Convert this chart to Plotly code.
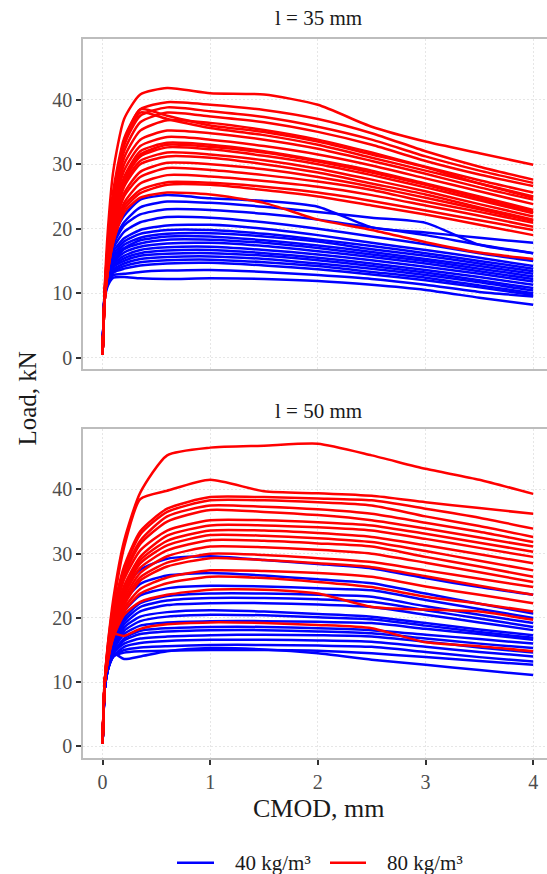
import plotly.graph_objects as go

# CMOD sampling positions (mm) used for every curve
cmod = [0, 0.02, 0.05, 0.1, 0.2, 0.35, 0.6, 1.0, 1.5, 2.0, 2.5, 3.0, 3.5, 4.0]

# l = 35 mm, 40 kg/m3 (blue)
load_35_40 = [
    [0.5, 10, 15, 19, 22, 24.5, 25.2, 24.7, 24.3, 23.4, 20.2, 19.4, 18.6, 17.8],
    [0.5, 10, 14.5, 18, 21, 23.3, 24.2, 24.0, 23.4, 22.6, 21.7, 20.9, 17.5, 16.2],
    [0.5, 10, 14, 17.5, 20.5, 22.2, 23.0, 22.9, 22.3, 21.4, 20.2, 19.0, 17.5, 16.2],
    [0.5, 10, 14, 17, 19.5, 21.0, 21.8, 21.7, 21.0, 20.0, 18.8, 17.6, 16.2, 15.0],
    [0.5, 10, 13.5, 16.5, 18.5, 19.8, 20.5, 20.6, 20.0, 19.0, 17.8, 16.7, 15.5, 14.2],
    [0.5, 10, 13.5, 16, 18, 19.2, 19.8, 19.8, 19.2, 18.3, 17.3, 16.2, 15.0, 13.8],
    [0.5, 10, 13, 15.5, 17.5, 18.6, 19.2, 19.3, 18.8, 18.0, 16.8, 15.8, 14.6, 13.4],
    [0.5, 10, 13, 15.5, 17, 18.2, 18.8, 18.8, 18.2, 17.4, 16.4, 15.3, 14.2, 13.0],
    [0.5, 10, 13, 15, 16.8, 17.7, 18.3, 18.3, 17.8, 17.0, 16.0, 15.0, 13.8, 12.6],
    [0.5, 10, 12.5, 14.8, 16.3, 17.2, 17.7, 17.8, 17.3, 16.5, 15.6, 14.6, 13.4, 12.2],
    [0.5, 10, 12.5, 14.5, 15.8, 16.7, 17.1, 17.2, 16.7, 16.0, 15.1, 14.1, 13.0, 11.8],
    [0.5, 9.5, 12.5, 14.2, 15.4, 16.2, 16.6, 16.7, 16.2, 15.5, 14.6, 13.6, 12.5, 11.3],
    [0.5, 9.5, 12.3, 14, 15.0, 15.8, 16.1, 16.2, 15.8, 15.1, 14.2, 13.2, 12.0, 10.8],
    [0.5, 9.5, 12.0, 13.6, 14.6, 15.3, 15.6, 15.7, 15.3, 14.6, 13.8, 12.8, 11.7, 10.4],
    [0.5, 9.5, 12, 13.4, 14.2, 14.8, 15.1, 15.2, 14.8, 14.2, 13.3, 12.4, 11.2, 10.0],
    [0.5, 9.5, 11.8, 13.2, 13.8, 14.3, 14.6, 14.7, 14.3, 13.7, 12.9, 12.0, 10.9, 9.7],
    [0.5, 9.5, 11.5, 12.8, 13.0, 13.3, 13.5, 13.6, 13.3, 12.8, 12.2, 11.3, 10.2, 9.5],
    [0.5, 9, 11.2, 12.4, 12.5, 12.3, 12.2, 12.3, 12.2, 11.9, 11.3, 10.5, 9.3, 8.2],
]

# l = 35 mm, 80 kg/m3 (red)
load_35_80 = [
    [0.5, 11, 20, 29, 37, 40.8, 41.8, 41.0, 40.8, 39.2, 35.8, 33.5, 31.7, 29.9],
    [0.5, 10.5, 18, 26, 34, 38.5, 39.6, 39.2, 38.4, 37.0, 34.8, 32.0, 29.6, 27.6],
    [0.5, 10.5, 17.5, 25, 33, 37.5, 38.8, 38.2, 37.3, 35.8, 33.8, 31.2, 29.0, 27.1],
    [0.5, 10, 17, 24.5, 32, 36.5, 38.0, 37.4, 36.5, 35.0, 33.0, 30.5, 28.4, 26.6],
    [0.5, 10, 16.5, 24, 31, 35.2, 36.8, 36.4, 35.3, 33.8, 31.8, 29.6, 27.5, 25.6],
    [0.5, 10, 17, 25, 33, 38.0, 37.0, 35.6, 34.5, 33.0, 31.0, 29.0, 27.0, 25.0],
    [0.5, 10, 17, 25, 33.5, 38.5, 37.5, 36.0, 35.0, 33.5, 31.5, 29.5, 27.0, 24.8],
    [0.5, 10, 16, 23, 30, 33.8, 35.2, 34.8, 33.8, 32.4, 30.5, 28.5, 26.4, 24.5],
    [0.5, 9.5, 15.5, 22, 29, 32.8, 34.2, 33.8, 32.8, 31.5, 29.8, 27.8, 25.8, 23.8],
    [0.5, 9.5, 15, 21.5, 28, 32, 33.3, 33.0, 32.0, 30.6, 29.0, 27.0, 25.0, 22.9],
    [0.5, 9.5, 15, 21, 27.5, 31.5, 33, 32.7, 31.8, 30.4, 28.7, 26.8, 24.7, 22.6],
    [0.5, 9.5, 15, 21, 27.5, 31.2, 32.6, 32.3, 31.3, 30.0, 28.3, 26.4, 24.4, 22.4],
    [0.5, 9.5, 14.5, 20.5, 27, 30.5, 31.8, 31.5, 30.6, 29.3, 27.6, 25.8, 23.8, 21.9],
    [0.5, 9, 14.5, 20, 26.5, 30.0, 31.2, 31.0, 30.0, 28.7, 27.0, 25.3, 23.3, 21.4],
    [0.5, 9, 14, 19.5, 25.5, 28.8, 30.2, 30.0, 29.2, 28.0, 26.5, 24.8, 23.0, 21.2],
    [0.5, 9, 14, 19.5, 25, 28.0, 29.4, 29.1, 28.3, 27.3, 26.0, 24.2, 22.6, 20.9],
    [0.5, 9, 14, 19, 24, 27.0, 28.3, 28.1, 27.4, 26.5, 25.2, 23.6, 22.0, 20.3],
    [0.5, 9, 13.5, 18.5, 23.5, 26.0, 27.2, 27.1, 26.5, 25.6, 24.3, 22.8, 21.3, 19.8],
    [0.5, 9, 13.5, 18, 23, 25.5, 26.8, 26.8, 26.0, 25.0, 23.6, 22.2, 20.6, 19.0],
    [0.5, 9, 13.5, 18, 22.5, 24.8, 25.6, 25.3, 24.0, 21.4, 19.8, 17.9, 16.3, 15.3],
]

# l = 50 mm, 40 kg/m3 (blue)
load_50_40 = [
    [0.5, 9, 13.5, 18, 24.5, 27.5, 29.2, 29.6, 29.0, 28.4, 27.7, 26.2, 24.8, 23.6],
    [0.5, 9, 13, 17, 22.5, 25.3, 26.6, 27.0, 26.6, 26.0, 25.4, 23.8, 22.2, 20.7],
    [0.5, 9, 13, 16.5, 21, 23.5, 24.6, 25.0, 24.9, 24.6, 24.3, 22.8, 21.4, 20.0],
    [0.5, 9, 13, 16.5, 20, 22.3, 23.4, 23.8, 23.8, 23.6, 23.3, 21.8, 20.5, 19.2],
    [0.5, 9, 13, 16, 19.5, 21.7, 22.7, 23.1, 23.1, 22.9, 22.5, 21.2, 19.9, 18.6],
    [0.5, 9, 12.5, 15.5, 19, 21, 22.0, 22.3, 22.3, 22.1, 21.7, 20.5, 19.3, 18.1],
    [0.5, 9, 12.5, 15.5, 18.5, 20.2, 20.9, 21.2, 21.0, 20.6, 20.2, 19.2, 18.2, 17.3],
    [0.5, 9, 12.5, 15, 18, 19.5, 20.2, 20.5, 20.4, 20.1, 19.8, 18.8, 17.8, 16.9],
    [0.5, 9, 12.5, 15, 17.5, 18.8, 19.3, 19.5, 19.5, 19.4, 19.2, 18.3, 17.5, 16.6],
    [0.5, 9, 12, 14.5, 16.8, 18.0, 18.4, 18.6, 18.6, 18.4, 18.1, 17.4, 16.7, 16.0],
    [0.5, 9, 12, 14.5, 16.5, 17.5, 17.9, 18.1, 18.1, 17.9, 17.6, 16.8, 16.0, 15.3],
    [0.5, 9, 12, 14.5, 16, 16.8, 17.1, 17.3, 17.4, 17.3, 17.1, 16.3, 15.4, 14.6],
    [0.5, 9, 12, 14, 15.5, 16.1, 16.4, 16.6, 16.6, 16.5, 16.3, 15.5, 14.7, 14.0],
    [0.5, 9, 12, 14, 15, 15.4, 15.6, 15.8, 15.8, 15.7, 15.5, 14.7, 13.9, 13.2],
    [0.5, 9, 12, 14, 14.6, 14.8, 14.9, 15.0, 15.0, 14.9, 14.5, 13.9, 13.3, 12.7],
    [0.5, 9, 12, 14.5, 13.6, 14.0, 14.8, 15.3, 15.1, 14.5, 13.5, 12.7, 11.9, 11.1],
]

# l = 50 mm, 80 kg/m3 (red)
load_50_80 = [
    [0.5, 10, 16, 23, 32, 39.5, 45.3, 46.5, 46.8, 47.1, 45.3, 43.2, 41.5, 39.3],
    [0.5, 10, 16, 22, 31, 38.5, 39.8, 41.5, 39.7, 39.4, 39.0, 38.0, 37.1, 36.2],
    [0.5, 10, 15.5, 21, 28, 33.5, 37.0, 38.8, 38.8, 38.6, 38.3, 37.0, 35.6, 33.9],
    [0.5, 10, 15.5, 21, 27.5, 33, 36.5, 38.3, 38.3, 38.0, 37.5, 35.8, 34.3, 32.6],
    [0.5, 10, 15, 20.5, 27, 32, 35.8, 37.5, 37.3, 36.9, 36.2, 34.8, 33.4, 31.8],
    [0.5, 10, 15, 20, 26.5, 31.5, 35.0, 36.8, 36.5, 36.0, 35.2, 33.9, 32.5, 31.1],
    [0.5, 10, 15, 20, 26, 30.5, 33.6, 35.2, 35.2, 34.9, 34.4, 33.1, 31.7, 30.3],
    [0.5, 10, 14.5, 19.5, 25, 29.5, 32.8, 34.4, 34.4, 34.1, 33.6, 32.3, 30.9, 29.5],
    [0.5, 10, 14.5, 19, 24.5, 29, 32.0, 33.6, 33.6, 33.2, 32.6, 31.3, 29.9, 28.5],
    [0.5, 10, 14.5, 19, 24, 28.5, 31.3, 32.9, 32.8, 32.4, 31.8, 30.4, 28.9, 27.4],
    [0.5, 10, 14, 18.5, 23.5, 27.8, 30.5, 32.1, 32.0, 31.6, 31.1, 29.5, 28.0, 26.4],
    [0.5, 10, 14, 18.5, 23, 27, 29.6, 31.1, 31.0, 30.6, 30.0, 28.6, 27.1, 25.6],
    [0.5, 10, 14, 18, 22.5, 26.3, 28.6, 30.0, 29.8, 29.3, 28.7, 27.4, 26.1, 24.8],
    [0.5, 10, 14, 18, 22, 25.8, 28.0, 29.3, 29.0, 28.5, 27.9, 26.5, 25.0, 23.6],
    [0.5, 10, 13.5, 17.5, 21.5, 24.5, 26.3, 27.4, 27.3, 27.0, 26.4, 24.9, 23.6, 22.3],
    [0.5, 10, 13.5, 17, 21, 23.8, 25.4, 26.4, 26.2, 25.6, 24.8, 23.3, 22.2, 21.0],
    [0.5, 10, 13.5, 17, 20.5, 22.5, 23.6, 24.4, 24.4, 23.8, 21.7, 21.3, 21.0, 19.7],
    [0.5, 10, 14, 17.5, 17.2, 18.3, 19.0, 19.3, 19.2, 18.9, 18.4, 16.2, 15.6, 14.8],
]

panel_titles = ["l = 35 mm", "l = 50 mm"]
series_names = ["40 kg/m³", "80 kg/m³"]
x_ticks = [0, 1, 2, 3, 4]
y_ticks = [0, 10, 20, 30, 40]

BLUE = "#0000ff"
RED = "#ff0000"
FONT = "Liberation Serif, Times New Roman, serif"

fig = go.Figure()

groups = [
    (load_35_40, "x", "y", BLUE, series_names[0]),
    (load_35_80, "x", "y", RED, series_names[1]),
    (load_50_40, "x2", "y2", BLUE, series_names[0]),
    (load_50_80, "x2", "y2", RED, series_names[1]),
]
for curves, xa, ya, col, name in groups:
    for c in curves:
        fig.add_trace(go.Scatter(
            x=cmod, y=c, mode="lines", xaxis=xa, yaxis=ya,
            line=dict(color=col, width=2.5, shape="spline", smoothing=0.6),
            name=name, legendgroup=name, showlegend=False,
        ))

# The original panel runs slightly past the right edge of the 547 px window
W, H = 555, 874
ml, mr, mt, mb = 83, 0, 39, 116
ph = H - mt - mb
top_dom = [(H - mb - 369.3) / ph, 1.0]
bot_dom = [0.0, (H - mb - 429.0) / ph]

border = "#bdbdbd"
grid = "#e6e6e6"
xr = [-0.182, 4.203]
yr = [-1.8, 49.4]

common_x = dict(range=xr, showline=True, linecolor=border, linewidth=1.5, mirror=True,
                showgrid=True, gridcolor=grid, griddash="2px,2px", gridwidth=1,
                tickvals=x_ticks, zeroline=False)
common_y = dict(range=yr, showline=True, linecolor=border, linewidth=1.5, mirror=False,
                showgrid=True, gridcolor=grid, griddash="2px,2px", gridwidth=1,
                tickvals=y_ticks, ticks="outside", ticklen=5, tickwidth=2, tickcolor="#333333",
                tickfont=dict(family=FONT, size=20, color="#4d4d4d"), zeroline=False)

fig.update_layout(
    width=W, height=H,
    margin=dict(l=ml, r=mr, t=mt, b=mb, autoexpand=False),
    paper_bgcolor="white", plot_bgcolor="white",
    font=dict(family=FONT, color="#1a1a1a"),
    xaxis=dict(**common_x, anchor="y", showticklabels=False, ticks=""),
    xaxis2=dict(**common_x, anchor="y2", ticks="outside", ticklen=5, tickwidth=2, tickcolor="#333333",
                tickfont=dict(family=FONT, size=20, color="#4d4d4d")),
    yaxis=dict(**common_y, domain=top_dom, anchor="x"),
    yaxis2=dict(**common_y, domain=bot_dom, anchor="x2"),
    showlegend=False,
)

def px_x(p):
    return (p - ml) / (W - ml - mr)

def px_y(p):
    return (H - mb - p) / ph

annots = [
    dict(text=panel_titles[0], x=px_x(318), y=px_y(18), font=dict(size=21)),
    dict(text=panel_titles[1], x=px_x(318), y=px_y(411), font=dict(size=21)),
    dict(text="CMOD, mm", x=px_x(318), y=px_y(808), font=dict(size=26)),
    dict(text="Load, kN", x=px_x(26.5), y=px_y(399), font=dict(size=25), textangle=-90),
]
for a in annots:
    fig.add_annotation(xref="paper", yref="paper", xanchor="center", yanchor="middle",
                       showarrow=False, font_family=FONT, font_color="#1a1a1a", **a)

# legend (bottom): line key + label for each series
legend_y = px_y(862.7)
for (x0, x1, tx), col, name in zip([(177, 214, 233), (330, 366, 385)], [BLUE, RED], series_names):
    fig.add_shape(type="line", xref="paper", yref="paper", x0=px_x(x0), x1=px_x(x1),
                  y0=legend_y, y1=legend_y, line=dict(color=col, width=2.5))
    fig.add_annotation(xref="paper", yref="paper", x=px_x(tx), y=legend_y, text=name,
                       xanchor="left", yanchor="middle", showarrow=False,
                       font=dict(family=FONT, size=21, color="#1a1a1a"))

fig.write_html("out.html", config={"displayModeBar": False},
               post_script="document.body.style.margin='0';document.body.style.overflow='hidden';")
